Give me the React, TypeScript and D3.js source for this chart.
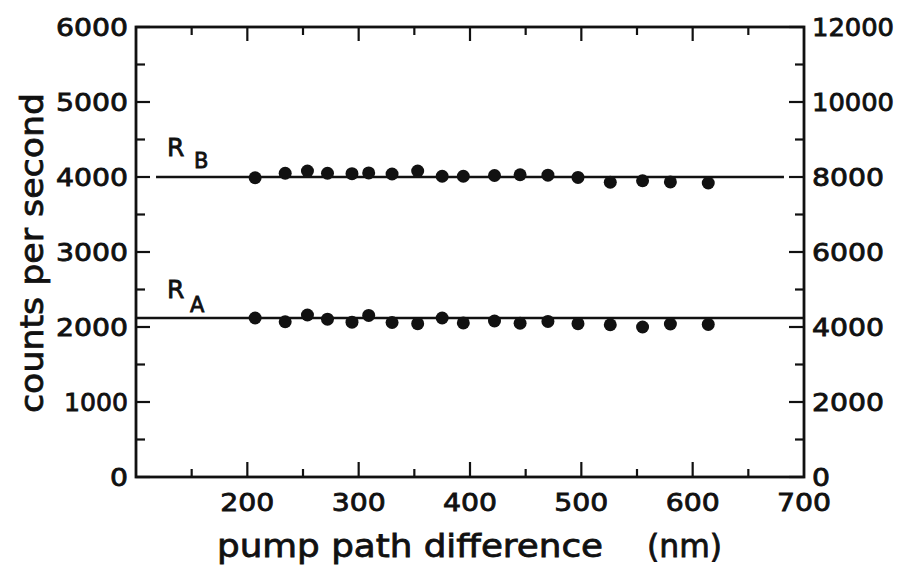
import React from 'react';
import * as d3 from 'd3';

// pump path difference (nm) for each measurement
const pathDiff = [207, 234, 254, 272, 294, 309, 330, 353, 375, 394, 422, 445, 470, 497, 526, 555, 580, 614];
// counts per second
const rB = [3990, 4050, 4080, 4050, 4045, 4055, 4040, 4080, 4010, 4010, 4020, 4030, 4025, 3995, 3930, 3950, 3935, 3920];
const rA = [2120, 2070, 2160, 2105, 2065, 2155, 2060, 2045, 2120, 2055, 2080, 2050, 2075, 2045, 2030, 2000, 2040, 2035];
const rBLevel = 4000;
const rALevel = 2120;
const rBSpan = [118, 682];
const rASpan = [100, 700];

const xTickLabels = ['200', '300', '400', '500', '600', '700'];
const yLeftTicks = [0, 1000, 2000, 3000, 4000, 5000, 6000];
const yRightTicks = [0, 2000, 4000, 6000, 8000, 10000, 12000];

const W = 902;
const H = 568;
const m = { left: 136, right: 804, top: 27, bottom: 477 };

const FONT = '"DejaVu Sans", sans-serif';

// rough width of the hand-lettered numbers
const numWidth = (s: string) => s.split('').reduce((a, c) => a + (c === '1' ? 10 : 18), 0);

export default function App() {
  const x = d3.scaleLinear().domain([100, 700]).range([m.left, m.right]);
  const yL = d3.scaleLinear().domain([0, 6000]).range([m.bottom, m.top]);
  const yR = d3.scaleLinear().domain([0, 12000]).range([m.bottom, m.top]);

  const line = d3.line<[number, number]>().x(d => x(d[0])).y(d => yL(d[1]));

  const xMajor = d3.range(200, 700, 100);
  const xMinor = d3.range(150, 700, 100);
  const yLMinor = d3.range(500, 6000, 1000);
  const yRMinor = d3.range(1000, 12000, 2000);

  const stroke = '#111';
  // lettering in the original is heavier than the font
  const txt = { fill: stroke, stroke: stroke, strokeWidth: 0.8 };

  return (
    <svg width={W} height={H} style={{ position: 'absolute', left: 0, top: 0, background: '#fff' }}
      fontFamily={FONT}>
      {/* frame */}
      <rect x={m.left} y={m.top} width={m.right - m.left} height={m.bottom - m.top}
        fill="none" stroke={stroke} strokeWidth={2.8} />

      {/* x ticks, top and bottom, pointing inward */}
      {xMajor.map(v => (
        <g key={'xM' + v} stroke={stroke} strokeWidth={2.2}>
          <line x1={x(v)} x2={x(v)} y1={m.top} y2={m.top + 14} />
          <line x1={x(v)} x2={x(v)} y1={m.bottom} y2={m.bottom - 15} />
        </g>
      ))}
      {xMinor.map(v => (
        <g key={'xm' + v} stroke={stroke} strokeWidth={2.2}>
          <line x1={x(v)} x2={x(v)} y1={m.top} y2={m.top + 8} />
          <line x1={x(v)} x2={x(v)} y1={m.bottom} y2={m.bottom - 8} />
        </g>
      ))}

      {/* left y ticks */}
      {yLeftTicks.map(v => (
        <line key={'yl' + v} x1={m.left} x2={m.left + 14} y1={yL(v)} y2={yL(v)} stroke={stroke} strokeWidth={2.2} />
      ))}
      {yLMinor.map(v => (
        <line key={'ylm' + v} x1={m.left} x2={m.left + 9} y1={yL(v)} y2={yL(v)} stroke={stroke} strokeWidth={2.2} />
      ))}
      {/* right y ticks */}
      {yRightTicks.map(v => (
        <line key={'yr' + v} x1={m.right} x2={m.right - 15} y1={yR(v)} y2={yR(v)} stroke={stroke} strokeWidth={2.2} />
      ))}
      {yRMinor.map(v => (
        <line key={'yrm' + v} x1={m.right} x2={m.right - 9} y1={yR(v)} y2={yR(v)} stroke={stroke} strokeWidth={2.2} />
      ))}

      {/* tick labels */}
      {yLeftTicks.map(v => {
        const s = String(v);
        return (
          <text key={'tl' + v} x={m.left - 8} y={yL(v)} dy="0.36em" textAnchor="end" fontSize={24}
            textLength={numWidth(s)} lengthAdjust="spacingAndGlyphs" {...txt}>{s}</text>
        );
      })}
      {yRightTicks.map(v => {
        const s = String(v);
        return (
          <text key={'tr' + v} x={m.right + 8} y={yR(v)} dy="0.36em" textAnchor="start" fontSize={24}
            textLength={numWidth(s)} lengthAdjust="spacingAndGlyphs" {...txt}>{s}</text>
        );
      })}
      {xTickLabels.map(s => (
        <text key={'tx' + s} x={x(+s)} y={m.bottom + 34} textAnchor="middle" fontSize={24}
          textLength={54} lengthAdjust="spacingAndGlyphs" {...txt}>{s}</text>
      ))}

      {/* axis titles */}
      <text x={217} y={557} fontSize={32} textLength={386} lengthAdjust="spacingAndGlyphs" {...txt}>
        pump path difference
      </text>
      <text x={647} y={557} fontSize={32} textLength={75} lengthAdjust="spacingAndGlyphs" {...txt}>
        (nm)
      </text>
      <text transform="translate(43,413) rotate(-90)" fontSize={32} textLength={320}
        lengthAdjust="spacingAndGlyphs" {...txt}>counts per second</text>

      {/* level lines */}
      <path d={line(rBSpan.map(v => [v, rBLevel] as [number, number])) || ''} fill="none" stroke={stroke} strokeWidth={2.4} />
      <path d={line(rASpan.map(v => [v, rALevel] as [number, number])) || ''} fill="none" stroke={stroke} strokeWidth={2.4} />

      {/* data points */}
      {pathDiff.map((v, i) => (
        <circle key={'b' + i} cx={x(v)} cy={yL(rB[i])} r={6.5} fill={stroke} />
      ))}
      {pathDiff.map((v, i) => (
        <circle key={'a' + i} cx={x(v)} cy={yL(rA[i])} r={6.5} fill={stroke} />
      ))}

      {/* series labels */}
      <text x={167} y={156} fontSize={25} {...txt}>R</text>
      <text x={194} y={168} fontSize={21} {...txt}>B</text>
      <text x={167} y={298} fontSize={25} {...txt}>R</text>
      <text x={190} y={312} fontSize={21} {...txt}>A</text>
    </svg>
  );
}
